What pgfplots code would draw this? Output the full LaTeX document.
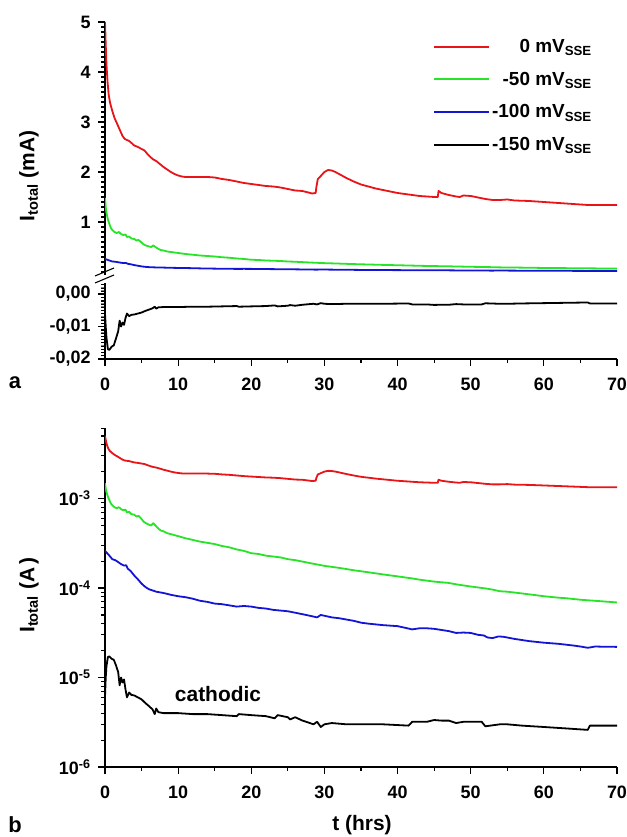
\documentclass[border=0pt]{standalone}
\usepackage{pgfplots}
\pgfplotsset{compat=1.18}
\usepackage{pgfplotstable}
\usepackage{fontspec}
\setmainfont{Liberation Sans}

\definecolor{cred}{RGB}{232,20,24}
\definecolor{cgreen}{RGB}{40,228,40}
\definecolor{cblue}{RGB}{20,20,215}

% current in mA
\pgfplotstableread{
t y
0 5.00
0.1 4.55
0.2 4.15
0.35 3.80
0.5 3.55
0.7 3.38
1.0 3.22
1.3 3.08
1.7 2.95
2.0 2.85
2.4 2.72
2.7 2.66
3.0 2.64
3.3 2.62
3.7 2.57
4.0 2.53
4.5 2.50
5.0 2.46
5.4 2.43
5.8 2.36
6.2 2.30
6.6 2.25
7.0 2.22
7.5 2.16
8.0 2.10
8.5 2.05
9.0 2.00
9.5 1.96
10.0 1.93
10.5 1.91
11.0 1.90
12.0 1.90
13.0 1.90
14.0 1.90
15.0 1.89
16.0 1.86
17.0 1.84
18.0 1.81
19.0 1.78
20.0 1.76
21.0 1.74
22.0 1.72
23.0 1.71
24.0 1.69
25.0 1.66
26.0 1.63
27.0 1.62
27.8 1.59
28.3 1.57
28.8 1.58
28.9 1.70
29.1 1.86
29.5 1.92
30.0 2.00
30.5 2.04
31.0 2.03
31.5 2.00
32.0 1.96
33.0 1.88
34.0 1.81
35.0 1.75
36.0 1.71
37.0 1.67
38.0 1.64
39.0 1.61
40.0 1.58
41.0 1.56
42.0 1.54
43.0 1.52
44.0 1.51
45.0 1.50
45.5 1.50
45.6 1.62
46.0 1.58
46.5 1.56
47.0 1.54
48.0 1.51
48.5 1.50
49.0 1.53
50.0 1.52
51.0 1.49
52.0 1.46
53.0 1.44
54.0 1.44
55.0 1.45
56.0 1.43
58.0 1.42
60.0 1.40
62.0 1.38
64.0 1.36
66.0 1.34
68.0 1.34
70.0 1.34
}\redtab

\pgfplotstableread{
t y
0 1.48
0.1 1.30
0.2 1.18
0.4 1.05
0.6 0.96
0.8 0.88
1.0 0.84
1.3 0.80
1.6 0.78
1.9 0.80
2.2 0.76
2.5 0.74
2.8 0.75
3.0 0.70
3.3 0.71
3.6 0.67
4.0 0.66
4.3 0.63
4.6 0.64
5.0 0.59
5.3 0.55
5.6 0.53
6.0 0.51
6.3 0.50
6.6 0.53
6.9 0.50
7.2 0.47
7.6 0.44
8.0 0.43
8.5 0.41
9.0 0.40
10 0.38
11 0.36
12 0.345
13 0.33
14 0.32
15 0.31
16 0.295
17 0.285
18 0.27
19 0.26
20 0.245
21 0.24
22 0.23
24 0.22
25 0.21
26 0.205
28 0.19
30 0.177
32 0.168
34 0.158
36 0.150
38 0.142
40 0.135
42 0.128
43 0.124
45 0.118
47 0.114
48 0.110
50 0.104
52 0.099
53 0.096
54 0.092
55 0.091
56 0.089
58 0.085
60 0.081
62 0.078
63 0.077
65 0.074
67 0.072
68 0.071
70 0.069
}\greentab

\pgfplotstableread{
t y
0 0.26
0.3 0.245
0.6 0.23
1.0 0.21
1.4 0.205
1.8 0.195
2.2 0.185
2.6 0.178
2.9 0.180
3.1 0.165
3.5 0.155
4.0 0.138
4.5 0.125
5.0 0.112
5.5 0.103
6.0 0.097
6.5 0.094
7.0 0.091
8.0 0.088
9.0 0.084
10 0.081
11 0.079
12 0.076
13 0.072
14 0.070
15 0.067
16 0.066
17 0.064
18 0.062
19 0.063
20 0.062
21 0.060
22 0.059
23 0.057
24 0.056
25 0.055
26 0.053
27 0.051
28 0.049
29 0.047
29.5 0.050
30 0.049
31 0.047
32 0.046
34 0.043
35 0.041
36 0.040
38 0.0385
40 0.0375
41 0.036
42 0.0345
43 0.0355
44 0.0355
45 0.035
46 0.034
47 0.033
48 0.0315
49 0.0318
50 0.0315
51 0.030
51.8 0.0295
52.3 0.0280
53 0.0276
53.8 0.0288
54.5 0.0285
56 0.0270
58 0.0255
60 0.0245
62 0.0238
64 0.0228
65 0.0222
66 0.0215
66.5 0.0218
67 0.0222
68 0.0221
70 0.0220
}\bluetab

\pgfplotstableread{
t y
0 -0.0060
0.1 -0.0100
0.2 -0.0134
0.4 -0.0170
0.6 -0.0172
0.9 -0.0162
1.2 -0.0158
1.5 -0.0137
1.8 -0.0115
2.0 -0.0082
2.2 -0.0100
2.4 -0.0088
2.6 -0.0095
2.8 -0.0074
3.0 -0.0060
3.3 -0.0068
3.6 -0.0064
4.0 -0.0063
4.5 -0.0060
5.0 -0.0057
5.5 -0.0052
6.0 -0.0048
6.5 -0.0044
6.8 -0.0039
7.0 -0.0045
7.3 -0.0041
8.0 -0.0040
10 -0.0040
12 -0.0039
14 -0.0039
16 -0.0038
18 -0.0037
18.3 -0.0039
20 -0.0038
22 -0.0037
23.2 -0.0035
23.6 -0.0038
25 -0.0036
25.3 -0.0034
26 -0.0036
27 -0.0033
28 -0.0031
28.5 -0.0030
29 -0.0032
29.5 -0.0028
30 -0.0030
31 -0.0031
33 -0.0030
35 -0.0030
38 -0.0030
41.5 -0.0029
42 -0.0032
44 -0.0032
45 -0.00335
46 -0.0033
47 -0.0033
48 -0.0031
49 -0.0032
51.5 -0.0032
52 -0.00285
54 -0.0030
55 -0.0030
57 -0.0029
60 -0.0028
63 -0.0027
66 -0.0026
66.3 -0.0029
68 -0.0029
70 -0.0029
}\blacktab

\tikzset{tk/.style={line width=1.1bp, draw=black}}

\pgfplotsset{
  myaxis/.style={
    scale only axis, width=512bp, xmin=0, xmax=70,
    clip mode=individual,
    tick label style={font=\fontsize{18}{18}\selectfont\bfseries},
    xticklabel style={yshift=-8bp},
    yticklabel style={xshift=-4bp},
    xtick={0,10,20,30,40,50,60,70},
    xticklabels={0,10,20,30,40,50,60,70},
    minor xtick={5,15,25,35,45,55,65},
    scaled y ticks=false, scaled x ticks=false,
  },
  myafter/.style={
    tick align=outside,
    axis line style={-, line width=1.2bp},
    tick style={line width=1.1bp},
    major tick length=7bp, minor tick length=4bp,
  },
  dl/.style={line width=1.8bp, line join=round},
}

\begin{document}
\begin{tikzpicture}
\useasboundingbox (0,0) rectangle (627bp,837bp);

% ---- panel a, upper part
\begin{axis}[myaxis, at={(105bp,562bp)}, anchor=south west, height=253bp,
  ymin=-0.06, ymax=5,
  axis x line=none, axis y line=left,
  ytick={1,2,3,4,5}, yticklabels={1,2,3,4,5},
  minor ytick={0,0.1,...,5},
  legend style={at={(0.955,0.94)}, anchor=north east, draw=none, fill=none,
    font=\fontsize{19}{22}\selectfont\bfseries, row sep=14bp,
    inner sep=0pt},
  legend cell align=right,
  legend image code/.code={\draw[#1, line width=2bp] (0bp,0bp) -- (55bp,0bp);},
  myafter,
]
\addplot[dl, cred] table[x=t,y=y] {\redtab};
\addlegendentry{0 mV\textsubscript{SSE}}
\addplot[dl, cgreen] table[x=t,y=y] {\greentab};
\addlegendentry{-50 mV\textsubscript{SSE}}
\addplot[dl, cblue] table[x=t,y=y] {\bluetab};
\addlegendentry{-100 mV\textsubscript{SSE}}
\addlegendimage{black, line width=2bp}
\addlegendentry{-150 mV\textsubscript{SSE}}
% tick marks
\pgfplotsinvokeforeach{1,2,3,4,5}{\draw[tk] (axis cs:0,#1) -- ++(-7bp,0pt);}
\pgfplotsinvokeforeach{0,0.1,...,4.95}{\draw[tk] (axis cs:0,#1) -- ++(-4bp,0pt);}
\end{axis}

% ---- panel a, lower part
\begin{axis}[myaxis, at={(105bp,478bp)}, anchor=south west, height=76bp,
  ymin=-0.02, ymax=0.0034,
  axis x line=bottom, axis y line=left,
  ytick={-0.02,-0.01,0}, yticklabels={{-0,02},{-0,01},{0,00}},
  minor ytick={-0.019,-0.018,...,0.003},
  myafter,
]
\addplot[dl, black] table[x=t,y=y] {\blacktab};
\pgfplotsinvokeforeach{-0.02,-0.01,0}{\draw[tk] (axis cs:0,#1) -- ++(-7bp,0pt);}
\pgfplotsinvokeforeach{-0.019,-0.018,...,0.0031}{\draw[tk] (axis cs:0,#1) -- ++(-4bp,0pt);}
\pgfplotsinvokeforeach{0,10,20,30,40,50,60,70}{\draw[tk] (axis cs:#1,-0.02) -- ++(0pt,-7bp);}
\pgfplotsinvokeforeach{5,15,25,35,45,55,65}{\draw[tk] (axis cs:#1,-0.02) -- ++(0pt,-4bp);}
\end{axis}

% break marks
\draw[line width=1.1bp] (95bp,561bp) -- (114bp,569bp);
\draw[line width=1.1bp] (95bp,554bp) -- (114bp,562bp);

% ---- panel b
\begin{axis}[myaxis, at={(105bp,70bp)}, anchor=south west, height=339bp,
  ymode=log, ymin=1e-6, ymax=6.14e-3,
  axis x line=bottom, axis y line=left,
  ytick={1e-6,1e-5,1e-4,1e-3},
  yticklabels={10\textsuperscript{-6},10\textsuperscript{-5},10\textsuperscript{-4},10\textsuperscript{-3}},
  minor ytick={2e-6,3e-6,4e-6,5e-6,6e-6,7e-6,8e-6,9e-6,
    2e-5,3e-5,4e-5,5e-5,6e-5,7e-5,8e-5,9e-5,
    2e-4,3e-4,4e-4,5e-4,6e-4,7e-4,8e-4,9e-4,
    2e-3,3e-3,4e-3,5e-3,6e-3},
  myafter,
]
\addplot[dl, cred] table[x=t,y expr=\thisrow{y}/1000] {\redtab};
\addplot[dl, cgreen] table[x=t,y expr=\thisrow{y}/1000] {\greentab};
\addplot[dl, cblue] table[x=t,y expr=\thisrow{y}/1000] {\bluetab};
\addplot[dl, black] table[x=t,y expr=-\thisrow{y}/1000] {\blacktab};
\pgfplotsinvokeforeach{1e-6,1e-5,1e-4,1e-3}{\draw[tk] (axis cs:0,#1) -- ++(-7bp,0pt);}
\pgfplotsinvokeforeach{2e-6,3e-6,4e-6,5e-6,6e-6,7e-6,8e-6,9e-6,
    2e-5,3e-5,4e-5,5e-5,6e-5,7e-5,8e-5,9e-5,
    2e-4,3e-4,4e-4,5e-4,6e-4,7e-4,8e-4,9e-4,
    2e-3,3e-3,4e-3,5e-3,6e-3}{\draw[tk] (axis cs:0,#1) -- ++(-4bp,0pt);}
\pgfplotsinvokeforeach{0,10,20,30,40,50,60,70}{\draw[tk] (axis cs:#1,1e-6) -- ++(0pt,-7bp);}
\pgfplotsinvokeforeach{5,15,25,35,45,55,65}{\draw[tk] (axis cs:#1,1e-6) -- ++(0pt,-4bp);}
\end{axis}

% labels
\node[rotate=90, font=\fontsize{21}{21}\selectfont\bfseries] at (29bp,661bp)
  {I\textsubscript{total} (mA)};
\node[rotate=90, font=\fontsize{21}{21}\selectfont\bfseries] at (29bp,242bp)
  {I\textsubscript{total} (A\,)};
\node[font=\fontsize{21}{21}\selectfont\bfseries] at (362bp,12bp) {t (hrs)};
\node[font=\fontsize{21}{21}\selectfont\bfseries] at (218bp,143bp) {cathodic};
\node[font=\fontsize{22}{22}\selectfont\bfseries] at (15bp,454bp) {a};
\node[font=\fontsize{22}{22}\selectfont\bfseries] at (15bp,12bp) {b};
\end{tikzpicture}
\end{document}
